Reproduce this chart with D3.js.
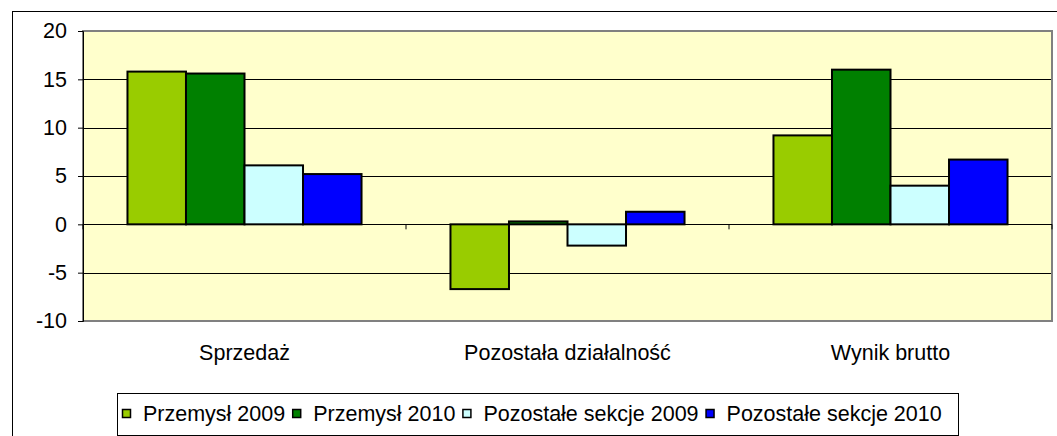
<!DOCTYPE html>
<html>
<head>
<meta charset="utf-8">
<script src="https://cdn.jsdelivr.net/npm/d3@7"></script>
<style>
  body { margin: 0; background: #fff; }
  svg text { font-family: Arial, "Liberation Sans", sans-serif; }
</style>
</head>
<body>
<svg id="chart" width="1057" height="436"></svg>
<script>
// dane
const categories = ["Sprzedaż", "Pozostała działalność", "Wynik brutto"];
const seriesNames = ["Przemysł 2009", "Przemysł 2010", "Pozostałe sekcje 2009", "Pozostałe sekcje 2010"];
const przemysl2009 = [15.8, -6.7, 9.2];
const przemysl2010 = [15.6, 0.3, 16.0];
const pozostale2009 = [6.1, -2.2, 4.0];
const pozostale2010 = [5.2, 1.3, 6.7];
const yTicks = [-10, -5, 0, 5, 10, 15, 20];
const colors = ["#99CC00", "#008000", "#CCFFFF", "#0000FF"];

const allSeries = [przemysl2009, przemysl2010, pozostale2009, pozostale2010];
const fontFam = "Arial, 'Liberation Sans', sans-serif";
const fontSize = "21.5px";

const svg = d3.select("#chart");
const plot = { left: 83, right: 1052, top: 31, bottom: 321 };

// ramka wykresu (tylko lewa i gorna krawedz widoczna)
svg.append("rect")
    .attr("x", 12.5).attr("y", 11.5)
    .attr("width", 1100).attr("height", 500)
    .attr("fill", "#fff")
    .attr("stroke", "#000")
    .attr("stroke-width", 1);

const x0 = d3.scaleBand()
    .domain(categories)
    .range([plot.left, plot.right]);

const x1 = d3.scaleBand()
    .domain(d3.range(seriesNames.length))
    .range([0, x0.bandwidth()])
    .paddingOuter(0.76);

const y = d3.scaleLinear()
    .domain([-10, 20])
    .range([plot.bottom, plot.top]);

// tlo obszaru wykresu
svg.append("rect")
    .attr("x", plot.left).attr("y", plot.top)
    .attr("width", plot.right - plot.left)
    .attr("height", plot.bottom - plot.top)
    .attr("fill", "#FFFFCC");

// linie siatki
svg.append("g")
    .selectAll("line")
    .data(yTicks.filter(d => d !== -10 && d !== 20 && d !== 0))
    .join("line")
    .attr("x1", plot.left).attr("x2", plot.right)
    .attr("y1", d => Math.round(y(d)) + 0.5)
    .attr("y2", d => Math.round(y(d)) + 0.5)
    .attr("stroke", "#000")
    .attr("stroke-width", 1);

// obramowanie obszaru
svg.append("rect")
    .attr("x", plot.left).attr("y", plot.top)
    .attr("width", plot.right - plot.left)
    .attr("height", plot.bottom - plot.top)
    .attr("fill", "none")
    .attr("stroke", "#808080")
    .attr("stroke-width", 2);

// os Y
const yAxis = svg.append("g")
    .attr("transform", `translate(${plot.left},0)`)
    .call(d3.axisLeft(y).tickValues(yTicks).tickSize(5).tickPadding(11).tickFormat(d => String(d)));
yAxis.select(".domain").attr("stroke", "#000");
yAxis.selectAll(".tick line").attr("stroke", "#000");
yAxis.selectAll("text")
    .style("font-size", fontSize)
    .style("font-family", fontFam)
    .attr("fill", "#000");

// slupki
const groups = svg.append("g")
    .selectAll("g")
    .data(categories)
    .join("g")
    .attr("transform", d => `translate(${x0(d)},0)`);

groups.selectAll("rect")
    .data((d, i) => allSeries.map((s, k) => ({ k: k, v: s[i] })))
    .join("rect")
    .attr("x", d => x1(d.k))
    .attr("width", x1.bandwidth())
    .attr("y", d => y(Math.max(0, d.v)))
    .attr("height", d => Math.abs(y(d.v) - y(0)))
    .attr("fill", d => colors[d.k])
    .attr("stroke", "#000")
    .attr("stroke-width", 2);

// os X (linia zerowa + znaczniki)
const xTickPos = [plot.left, ...categories.map(c => x0(c) + x0.bandwidth())];
svg.append("line")
    .attr("x1", plot.left).attr("x2", plot.right)
    .attr("y1", Math.round(y(0)) + 0.5).attr("y2", Math.round(y(0)) + 0.5)
    .attr("stroke", "#000");
svg.append("g")
    .selectAll("line")
    .data(xTickPos)
    .join("line")
    .attr("x1", d => d).attr("x2", d => d)
    .attr("y1", y(0)).attr("y2", y(0) + 5)
    .attr("stroke", "#000");

svg.append("g")
    .selectAll("text")
    .data(categories)
    .join("text")
    .attr("x", d => x0(d) + x0.bandwidth() / 2)
    .attr("y", 360)
    .attr("text-anchor", "middle")
    .style("font-size", fontSize)
    .text(d => d);

// legenda
const legend = svg.append("g");
legend.append("rect")
    .attr("x", 117.5).attr("y", 393.5)
    .attr("width", 841).attr("height", 42)
    .attr("fill", "#fff")
    .attr("stroke", "#000");

let lx = 122;
seriesNames.forEach((name, k) => {
    const item = legend.append("g");
    item.append("rect")
        .attr("x", lx + 0.5).attr("y", 409.5)
        .attr("width", 8).attr("height", 8)
        .attr("fill", colors[k])
        .attr("stroke", "#000")
        .attr("stroke-width", 1.5);
    const t = item.append("text")
        .attr("x", lx + 21)
        .attr("y", 421)
        .style("font-size", fontSize)
        .text(name);
    lx += 21 + t.node().getComputedTextLength() + 7;
});
</script>
</body>
</html>
